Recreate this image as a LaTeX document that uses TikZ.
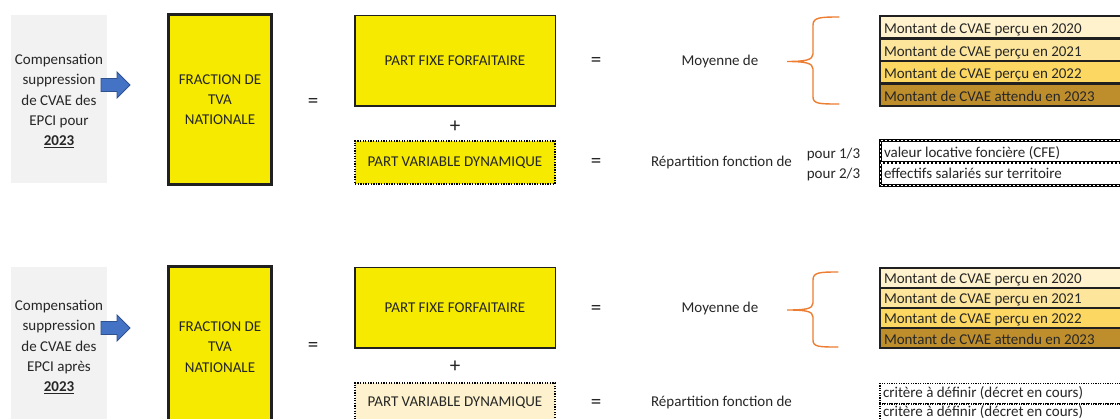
\documentclass[tikz,border=0pt]{standalone}
\usepackage{fontspec}
\setmainfont{Carlito}
\definecolor{ink}{RGB}{38,38,38}
\definecolor{edge}{RGB}{32,32,32}
\definecolor{panelgray}{RGB}{242,242,242}
\definecolor{tvayellow}{RGB}{245,234,0}
\definecolor{cream}{RGB}{253,242,205}
\definecolor{gold1}{RGB}{255,242,204}
\definecolor{gold2}{RGB}{253,229,155}
\definecolor{gold3}{RGB}{252,216,98}
\definecolor{gold4}{RGB}{190,142,45}
\definecolor{arrowblue}{RGB}{68,114,196}
\definecolor{arrowedge}{RGB}{47,82,143}
\definecolor{braceorange}{RGB}{237,125,49}
\tikzset{
  blockarrow/.pic={
    \filldraw[fill=arrowblue, draw=arrowedge, line width=0.8pt, line join=miter]
      (0,-6.5) -- (16,-6.5) -- (16,-13) -- (29,0) -- (16,13) -- (16,6.5) -- (0,6.5) -- cycle;
  }
}
\begin{document}
\begin{tikzpicture}[x=1pt, y=-1pt,
  font=\fontsize{15}{20.2}\selectfont,
  every node/.style={inner sep=0pt, outer sep=0pt, text=ink},
  sign/.style={font=\fontsize{21}{21}\selectfont},
  panel/.style={fill=panelgray, anchor=north west, minimum width=96pt},
  bigbox/.style={fill=tvayellow, draw=edge, line width=3pt, anchor=north west,
    minimum width=103pt, minimum height=170pt},
  fixebox/.style={fill=tvayellow, draw=edge, line width=1.5pt, anchor=north west,
    minimum width=200.5pt},
  dotbox/.style={draw=black, line width=1.6pt, dash pattern=on 1.3pt off 1.3pt,
    anchor=north west, minimum width=200pt, minimum height=43pt},
  cell/.style={draw=edge, line width=2.2pt, anchor=north west, minimum width=260pt},
  hatchcell/.style={fill=white, draw=black, line width=3pt, anchor=north west,
    minimum width=260pt, minimum height=22.5pt,
    postaction={draw=white, line width=1.4pt, dash pattern=on 2pt off 2pt}},
  dotcell/.style={fill=white, draw=black, line width=1.5pt, dash pattern=on 1.2pt off 1.2pt,
    anchor=north west, minimum width=260pt, minimum height=20.5pt},
  celltext/.style={anchor=base west},
  brace/.style={draw=braceorange, line width=1.4pt, line cap=round},
]
\useasboundingbox (0,0) rectangle (1120,419);
\clip (0,0) rectangle (1120,419);

% ---------- first block: 2023 ----------
\node[panel, minimum height=168pt] (p1) at (11,15) {};
\node[align=center] (p1t) at (59,101)
  {Compensation\\suppression\\de CVAE des\\EPCI pour\\\textbf{\underline{2023}}};
\pic at (101,85) {blockarrow};

\node[bigbox] (f1) at (168.5,14.5) {};
\node[align=center] (f1t) at (f1.center) {FRACTION DE\\TVA\\NATIONALE};
\node[sign] (eq1) at (313,103) {=};

\node[fixebox, minimum height=90.5pt] (x1) at (354.75,15.75) {PART FIXE FORFAITAIRE};
\node[sign] (pl1) at (455,127) {+};
\node[dotbox, fill=tvayellow] (v1) at (355,141) {PART VARIABLE DYNAMIQUE};
\node[sign] (eq2) at (596,62) {=};
\node[sign] (eq3) at (596,163) {=};

\node (moy1) at (720,62) {Moyenne de};
\draw[brace] (839,17) .. controls (820,17) and (813,17.5) .. (813,25)
  -- (813,54) .. controls (813,60) and (805,61.5) .. (787,61.5)
  .. controls (805,61.5) and (813,63) .. (813,69)
  -- (813,97) .. controls (813,104) and (820,104) .. (839,104);

\node[cell, fill=gold1, minimum height=22.5pt] (m1) at (880,16) {};
\node[cell, fill=gold2, minimum height=22.5pt] (m2) at (880,38.5) {};
\node[cell, fill=gold3, minimum height=22.5pt] (m3) at (880,61) {};
\node[cell, fill=gold4, minimum height=22.5pt] (m4) at (880,83.5) {};
\node[celltext] (m1t) at (884,34) {Montant de CVAE perçu en 2020};
\node[celltext] (m2t) at (884,56.5) {Montant de CVAE perçu en 2021};
\node[celltext] (m3t) at (884,79) {Montant de CVAE perçu en 2022};
\node[celltext] (m4t) at (884,101.5) {Montant de CVAE attendu en 2023};

\node (rep1) at (721.5,163) {Répartition fonction de};
\node (q1) at (833.5,155) {pour 1/3};
\node (q2) at (833.5,175) {pour 2/3};
\node[hatchcell] (h1) at (880.5,140.5) {};
\node[hatchcell] (h2) at (880.5,163) {};
\node[celltext] (h1t) at (884,158) {valeur locative foncière (CFE)};
\node[celltext] (h2t) at (884,178.5) {effectifs salariés sur territoire};

% ---------- second block: after 2023 ----------
\node[panel, minimum height=170pt] (p2) at (11,267) {};
\node[align=center] (p2t) at (59,347)
  {Compensation\\suppression\\de CVAE des\\EPCI après\\\textbf{\underline{2023}}};
\pic at (101,328) {blockarrow};

\node[bigbox] (f2) at (168.5,266.5) {};
\node[align=center] (f2t) at (220,347) {FRACTION DE\\TVA\\NATIONALE};
\node[sign] (eq4) at (313,347) {=};

\node[fixebox, minimum height=80.5pt] (x2) at (354.75,267.75) {PART FIXE FORFAITAIRE};
\node[sign] (pl2) at (455,367) {+};
\node[dotbox, fill=cream] (v2) at (355,383) {};
\node (v2t) at (455,403) {PART VARIABLE DYNAMIQUE};
\node[sign] (eq5) at (596,310) {=};
\node[sign] (eq6) at (596,404) {=};

\node (moy2) at (720,309) {Moyenne de};
\draw[brace] (838,272) .. controls (819,272) and (813,272.5) .. (813,280)
  -- (813,303) .. controls (813,309) and (805,310) .. (787,310)
  .. controls (805,310) and (813,311) .. (813,317)
  -- (813,340) .. controls (813,347) and (819,347) .. (838,347);

\node[cell, fill=gold1, minimum height=20pt] (n1) at (880,268) {};
\node[cell, fill=gold2, minimum height=20pt] (n2) at (880,288) {};
\node[cell, fill=gold3, minimum height=20pt] (n3) at (880,308) {};
\node[cell, fill=gold4, minimum height=20pt] (n4) at (880,328) {};
\node[celltext] (n1t) at (884,284) {Montant de CVAE perçu en 2020};
\node[celltext] (n2t) at (884,304) {Montant de CVAE perçu en 2021};
\node[celltext] (n3t) at (884,324) {Montant de CVAE perçu en 2022};
\node[celltext] (n4t) at (884,344.5) {Montant de CVAE attendu en 2023};

\node (rep2) at (721.5,403) {Répartition fonction de};
\node[dotcell] (d1) at (880,383.5) {};
\node[dotcell] (d2) at (880,404) {};
\node[celltext] (d1t) at (883,398) {critère à définir (décret en cours)};
\node[celltext] (d2t) at (883,417) {critère à définir (décret en cours)};
\end{tikzpicture}
\end{document}
